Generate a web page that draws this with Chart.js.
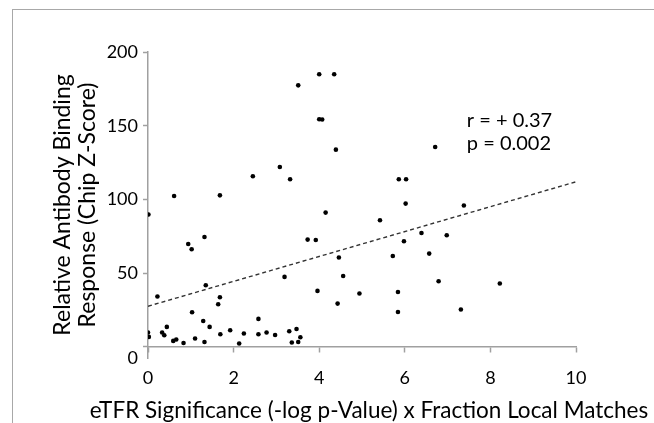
<!DOCTYPE html>
<html><head><meta charset="utf-8">
<script src="https://cdn.jsdelivr.net/npm/chart.js@4"></script>
<style>
html,body{margin:0;padding:0;background:#fff;}
#wrap{position:relative;width:654px;height:423px;overflow:hidden;background:#fff;}
#frame{position:absolute;left:12px;top:9px;width:800px;height:600px;border-top:1.5px solid #a8a8a8;border-left:1.5px solid #a8a8a8;}
canvas{position:absolute;left:0;top:0;}
</style></head><body>
<div id="wrap"><div id="frame"></div><canvas id="c" width="654" height="423"></canvas></div>
<script>
const xValues = [0.61,1.68,2.45,3.08,3.32,3.51,4.00,4.35,4.00,4.07,4.39,6.71,5.86,6.03,6.02,7.38,5.42,6.39,6.98,5.98,5.72,6.57,4.94,6.79,8.22,5.84,5.84,7.31,0.01,0.22,0.00,0.02,0.33,0.38,0.44,0.59,0.66,0.83,0.94,1.02,1.03,1.10,1.32,1.35,1.29,1.32,1.44,1.64,1.68,1.69,1.92,2.13,2.24,2.58,2.58,2.77,2.97,3.19,3.30,3.36,3.47,3.51,3.56,3.73,3.92,4.15,3.96,4.46,4.56,4.43];
const yValues = [102.4,102.8,115.7,122.0,113.7,177.4,184.9,184.9,154.4,154.2,133.8,135.6,113.7,113.7,97.2,95.9,85.9,77.3,75.7,71.7,61.7,63.3,36.2,44.5,43.0,37.3,23.7,25.4,89.8,34.2,9.8,6.8,9.8,7.9,13.6,4.1,5.0,2.7,69.8,66.2,23.5,5.7,74.6,41.8,17.6,3.4,13.6,28.9,33.7,8.6,11.3,2.3,9.1,19.0,8.6,9.8,8.1,47.5,10.6,3.0,12.2,3.4,6.6,72.8,72.5,91.1,38.0,60.6,48.1,29.4];
const trendX = [0, 10];
const trendY = [27.6, 112];
const xTicks = [0, 2, 4, 6, 8, 10];
const yTicks = [0, 50, 100, 150, 200];
const xTitle = 'eTFR Significance (-log p-Value) x Fraction Local Matches';
const yTitle = ['Relative Antibody Binding', 'Response (Chip Z-Score)'];
const statLines = ['r = + 0.37', 'p = 0.002'];

const FONT = 'Lato';
const AXIS = '#a0a0a0';

const textPlugin = {
  id: 'texts',
  afterDatasetsDraw(chart) {
    const {ctx, chartArea, scales: {x, y}} = chart;
    ctx.save();
    ctx.fillStyle = '#000';
    ctx.textBaseline = 'alphabetic';
    // correlation annotation
    ctx.font = '20px ' + FONT;
    ctx.textAlign = 'left';
    const px = x.getPixelForValue(7.45);
    const ys = [149, 133.4];
    statLines.forEach((t, i) => ctx.fillText(t, px, y.getPixelForValue(ys[i])));
    // x axis title (drawn here so it is not squeezed to the plot width)
    ctx.font = '22.5px ' + FONT;
    ctx.textAlign = 'center';
    ctx.fillText(xTitle, (chartArea.left + chartArea.right) / 2 + 7, 417.5);
    ctx.restore();
  }
};

new Chart(document.getElementById('c'), {
  type: 'scatter',
  data: {
    datasets: [
      {
        data: xValues.map((x, i) => ({x, y: yValues[i]})),
        backgroundColor: '#000', borderColor: '#000',
        pointRadius: 2.3, pointBorderWidth: 0, pointHoverRadius: 2.3
      },
      {
        type: 'line',
        data: trendX.map((x, i) => ({x, y: trendY[i]})),
        borderColor: '#333', borderWidth: 1.4, borderDash: [4, 3],
        pointRadius: 0, fill: false, tension: 0
      }
    ]
  },
  options: {
    responsive: false,
    animation: false,
    events: [],
    plugins: {legend: {display: false}, tooltip: {enabled: false}},
    layout: {padding: {left: 0, right: 78, top: 52, bottom: 65}},
    scales: {
      x: {
        type: 'linear',
        position: {y: 0},
        min: 0, max: 10,
        afterBuildTicks: s => { s.ticks = xTicks.map(v => ({value: v})); },
        grid: {display: true, drawOnChartArea: false, drawTicks: true, tickLength: 5, color: AXIS, tickColor: AXIS, tickWidth: 1.5},
        border: {display: true, color: AXIS, width: 1.5},
        ticks: {color: '#000', font: {family: FONT, size: 18}, padding: 15, maxRotation: 0, autoSkip: false},
        title: {display: false}
      },
      y: {
        type: 'linear',
        position: 'left',
        min: -7.5, max: 200,
        afterBuildTicks: s => { s.ticks = yTicks.map(v => ({value: v})); },
        afterFit: s => { s.width = 148; },
        grid: {display: true, drawOnChartArea: false, drawTicks: true, tickLength: 5, color: AXIS, tickColor: AXIS, tickWidth: 1.5},
        border: {display: true, color: AXIS, width: 1.5},
        ticks: {
          color: '#000', font: {family: FONT, size: 18}, padding: 5, autoSkip: false,
          callback: v => v === 0 ? ['', '0'] : String(v)
        },
        title: {display: true, text: yTitle, color: '#000', font: {family: FONT, size: 23, lineHeight: 1.08}, padding: {top: 50, bottom: 0}}
      }
    }
  },
  plugins: [textPlugin]
});
</script>
</body></html>
